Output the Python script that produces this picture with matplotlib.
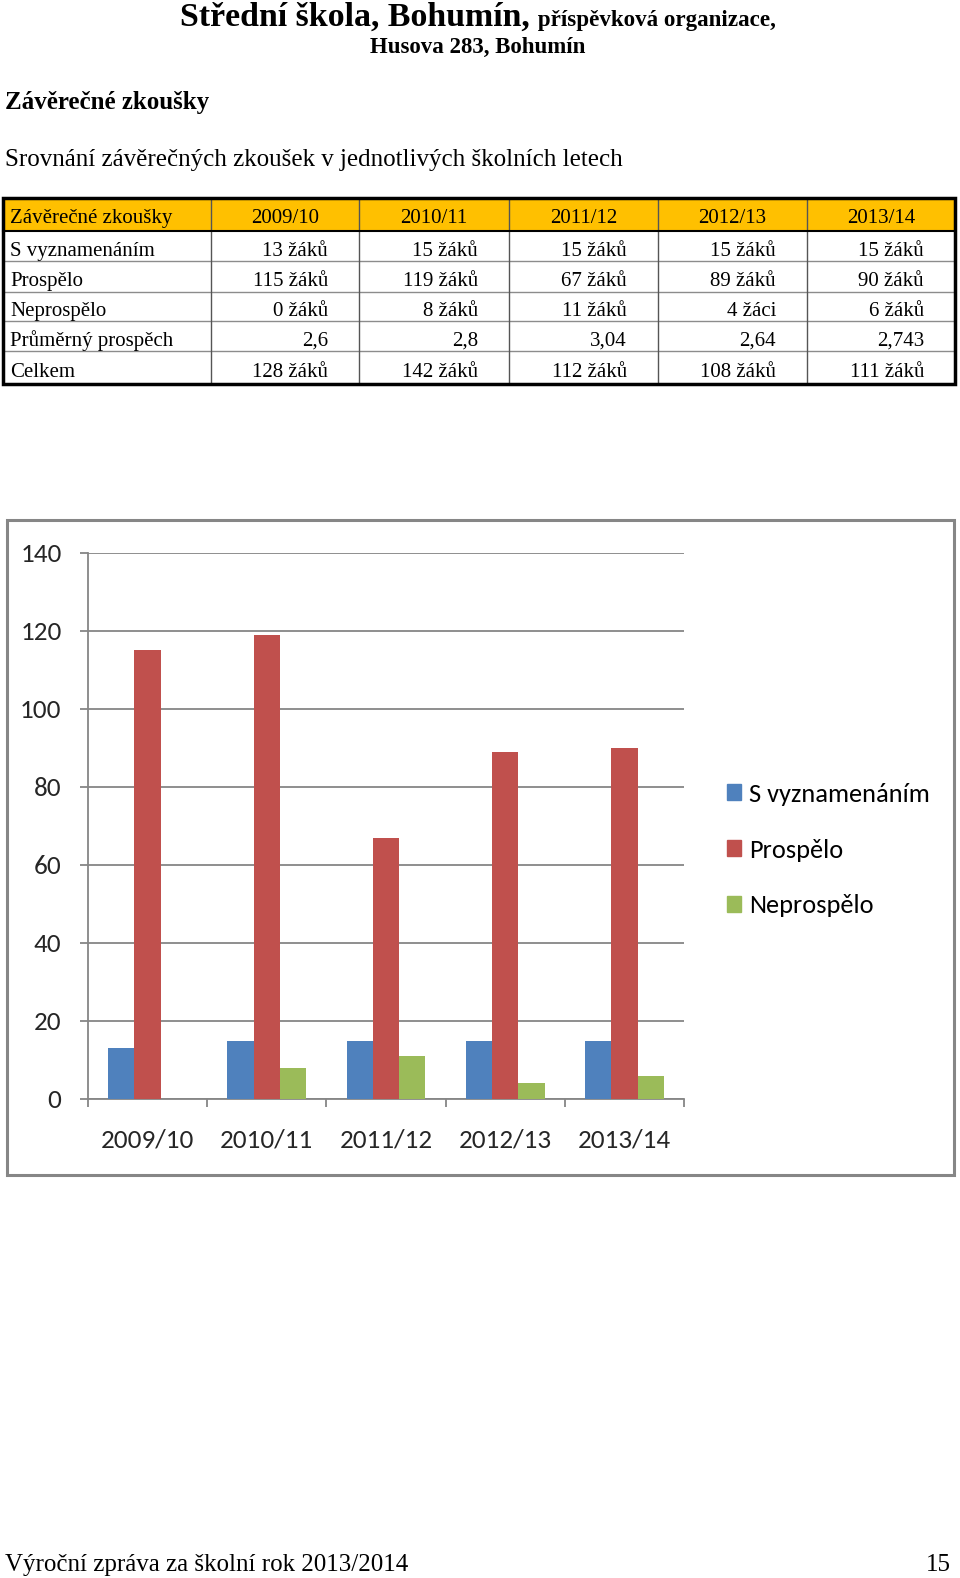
import numpy as np
import matplotlib
matplotlib.use('Agg')
import matplotlib.pyplot as plt
from matplotlib import font_manager
from matplotlib.patches import Rectangle, Patch

# data
years = ['2009/10', '2010/11', '2011/12', '2012/13', '2013/14']
s_vyzn = [13, 15, 15, 15, 15]
prospelo = [115, 119, 67, 89, 90]
neprospelo = [0, 8, 11, 4, 6]
row_names = ['S vyznamenáním', 'Prospělo', 'Neprospělo', 'Průměrný prospěch', 'Celkem']
row_vals = [
    ['13 žáků', '15 žáků', '15 žáků', '15 žáků', '15 žáků'],
    ['115 žáků', '119 žáků', '67 žáků', '89 žáků', '90 žáků'],
    ['0 žáků', '8 žáků', '11 žáků', '4 žáci', '6 žáků'],
    ['2,6', '2,8', '3,04', '2,64', '2,743'],
    ['128 žáků', '142 žáků', '112 žáků', '108 žáků', '111 žáků'],
]
series_names = ['S vyznamenáním', 'Prospělo', 'Neprospělo']
colors = ['#4F81BD', '#C0504D', '#9BBB59']

installed = {f.name for f in font_manager.fontManager.ttflist}
sans = next(f for f in ['Carlito', 'Liberation Sans Narrow', 'Open Sans', 'DejaVu Sans'] if f in installed)
serif = 'Liberation Serif'

W, H = 960, 1578
fig = plt.figure(figsize=(W / 100, H / 100), dpi=100)

# page layer in pixel coordinates
page = fig.add_axes([0, 0, 1, 1])
page.set_xlim(0, W)
page.set_ylim(H, 0)
page.axis('off')

page.text(530, 17, 'Střední škola, Bohumín,', ha='right', va='center', family=serif,
          fontweight='bold', fontsize=24.4)
page.text(532, 20, ' příspěvková organizace,', ha='left', va='center', family=serif,
          fontweight='bold', fontsize=16.6)
page.text(478, 47, 'Husova 283, Bohumín', ha='center', va='center', family=serif,
          fontweight='bold', fontsize=16.5)
page.text(5, 102, 'Závěrečné zkoušky', ha='left', va='center', family=serif,
          fontweight='bold', fontsize=18)
page.text(5, 160, 'Srovnání závěrečných zkoušek v jednotlivých školních letech', ha='left',
          va='center', family=serif, fontsize=18)
page.text(5, 1565, 'Výroční zpráva za školní rok 2013/2014', ha='left', va='center',
          family=serif, fontsize=18)
page.text(951, 1565, '15', ha='right', va='center', family=serif, fontsize=18)

# table
col_x = [3, 211, 359, 509, 658, 807, 955]
row_y = [198, 231, 261, 292, 321, 351, 384]
page.add_patch(Rectangle((col_x[0], row_y[0]), col_x[-1] - col_x[0], row_y[1] - row_y[0],
                         facecolor='#FFC000', edgecolor='none', zorder=1))
for y in row_y[2:-1]:
    page.plot([col_x[0], col_x[-1]], [y, y], color='#8c8c8c', lw=1, zorder=2)
for x in col_x[1:-1]:
    page.plot([x, x], [row_y[0], row_y[-1]], color='#555555', lw=1, zorder=2)
page.plot([col_x[0], col_x[-1]], [row_y[1], row_y[1]], color='black', lw=1.5, zorder=3)
page.add_patch(Rectangle((col_x[0], row_y[0]), col_x[-1] - col_x[0], row_y[-1] - row_y[0],
                         facecolor='none', edgecolor='black', lw=2.5, zorder=4))

tfs = 15
page.text(col_x[0] + 7, (row_y[0] + row_y[1]) / 2 + 4, 'Závěrečné zkoušky', ha='left',
          va='center', family=serif, fontsize=tfs)
for j, yr in enumerate(years):
    page.text((col_x[j + 1] + col_x[j + 2]) / 2, (row_y[0] + row_y[1]) / 2 + 4, yr,
              ha='center', va='center', family=serif, fontsize=tfs)
for i, name in enumerate(row_names):
    yc = (row_y[i + 1] + row_y[i + 2]) / 2 + 5
    page.text(col_x[0] + 7, yc, name, ha='left', va='center', family=serif, fontsize=tfs)
    for j, v in enumerate(row_vals[i]):
        page.text(col_x[j + 2] - 31, yc, v, ha='right', va='center', family=serif, fontsize=tfs)

# chart frame
page.add_patch(Rectangle((7, 520), 947, 655, facecolor='none', edgecolor='#868686', lw=2.2))

# bar chart
ax = fig.add_axes([88 / W, 1 - 1099 / H, (684 - 88) / W, (1099 - 553) / H])
x = np.arange(len(years))
bw = 0.22
for k, (vals, c) in enumerate(zip([s_vyzn, prospelo, neprospelo], colors)):
    ax.bar(x + (k - 1) * bw, vals, width=bw, color=c, zorder=3)
ax.set_xlim(-0.5, len(years) - 0.5)
ax.set_ylim(0, 140)
ax.set_yticks(np.arange(0, 141, 20))
ax.grid(axis='y', color='#868686', lw=1.3, zorder=0)
ax.set_xticks(x)
ax.set_xticklabels(years)
ax.set_xticks(np.arange(-0.5, len(years)), minor=True)
ax.tick_params(axis='x', which='major', length=0, pad=21, labelsize=19.5, labelcolor='#262626')
ax.tick_params(axis='x', which='minor', length=6, width=1.3, color='#868686', direction='out')
ax.tick_params(axis='y', length=6, width=1.3, color='#868686', pad=13, labelsize=19.5,
               labelcolor='#262626')
for lab in ax.get_xticklabels() + ax.get_yticklabels():
    lab.set_family(sans)
for s in ['top', 'right']:
    ax.spines[s].set_visible(False)
for s in ['left', 'bottom']:
    ax.spines[s].set_color('#868686')
    ax.spines[s].set_linewidth(1.3)

handles = [Patch(color=c, label=n) for c, n in zip(colors, series_names)]
fig.legend(handles=handles, loc='center left', bbox_to_anchor=(703 / W, 1 - 850 / H),
           frameon=False, prop={'family': sans, 'size': 19}, handlelength=0.55,
           handleheight=0.55, handletextpad=0.3, labelspacing=1.25)

fig.savefig('out.png', dpi=100)
